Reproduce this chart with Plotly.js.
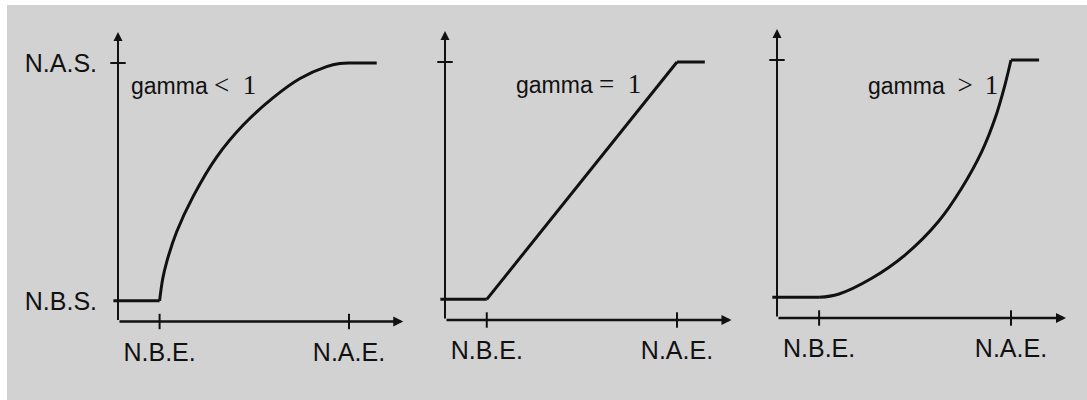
<!DOCTYPE html>
<html>
<head>
<meta charset="utf-8">
<script src="https://cdn.plot.ly/plotly-3.0.1.min.js"></script>
<style>
  html, body { margin: 0; padding: 0; background: #ffffff; }
  #chart { position: absolute; left: 7px; top: 5px; width: 1080px; height: 395px; }
</style>
</head>
<body>
<div id="chart"></div>
<script>
// Axis tick labels
const energyTickText = ['N.B.E.', 'N.A.E.'];
const signalTickText = ['N.B.S.', 'N.A.S.'];
// Normalised break points: N.B.E. / N.A.E. on x, N.B.S. / N.A.S. on y
const energyTicks = [0.18, 1.0];
const signalTicks = [0.08, 1.0];

// Panel captions
const captionWord = 'gamma';
const captionRelation = ['<', '=', '>'];
const captionValue = ['1', '1', '1'];

// Flat runs below N.B.E. and beyond N.A.E.
const lowRunX = [-0.02, 0.18];
const highRunX = [1.0, 1.12];

// Transfer curves between the break points
const rampBelowX = [0.18, 0.194, 0.211, 0.254, 0.326, 0.427, 0.542, 0.672, 0.788, 0.903, 0.96, 1.0];
const rampBelowY = [0.08, 0.167, 0.231, 0.347, 0.485, 0.636, 0.760, 0.866, 0.940, 0.986, 0.998, 1.0];
const rampUnitX = [0.18, 1.0];
const rampUnitY = [0.08, 1.0];
const rampAboveX = [0.18, 0.262, 0.405, 0.547, 0.689, 0.789, 0.875, 0.932, 0.974, 1.0];
const rampAboveY = [0.08, 0.092, 0.154, 0.244, 0.373, 0.503, 0.645, 0.774, 0.903, 1.0];

const ramps = [
  { x: rampBelowX, y: rampBelowY, shape: 'spline' },
  { x: rampUnitX, y: rampUnitY, shape: 'linear' },
  { x: rampAboveX, y: rampAboveY, shape: 'spline' }
];

// Panel frames (paper fractions) and shared styling
const frames = [
  { x: [0.09636, 0.38083], y: [0.19873, 0.98405] },
  { x: [0.39911, 0.68481], y: [0.20253, 0.98633] },
  { x: [0.70646, 0.99463], y: [0.20759, 0.99139] }
];
const ink = '#111111';
const sans = 'Liberation Sans, Arial, sans-serif';
const serif = 'Liberation Serif, Times New Roman, serif';
const xRange = [-0.03, 1.3];
const yRange = [0, 1.2];
const arrowTipX = 1.235;
const arrowTipY = 1.12;
const captionPos = [
  { x: 0.048, y: 0.915 },
  { x: 0.298, y: 0.915 },
  { x: 0.382, y: 0.903 }
];
const NBSP = '\u00a0', THIN = '\u2009';
const gapBefore = [NBSP, NBSP, NBSP + NBSP];
const gapAfter = [NBSP + NBSP, NBSP + NBSP, NBSP + THIN];

const traces = [];
const layout = {
  width: 1080, height: 395,
  margin: { l: 0, r: 0, t: 0, b: 0 },
  paper_bgcolor: '#d2d2d2',
  plot_bgcolor: 'rgba(0,0,0,0)',
  showlegend: false,
  annotations: []
};

const levelLow = signalTicks[0];
const levelHigh = signalTicks[1];

ramps.forEach((ramp, i) => {
  const n = i === 0 ? '' : String(i + 1);
  const xa = 'x' + n, ya = 'y' + n;
  const lineStyle = { color: ink, width: 3 };

  // level below N.B.E.
  traces.push({ type: 'scatter', mode: 'lines', xaxis: xa, yaxis: ya,
    x: lowRunX, y: lowRunX.map(() => levelLow), line: lineStyle, hoverinfo: 'skip' });
  // transfer curve
  traces.push({ type: 'scatter', mode: 'lines', xaxis: xa, yaxis: ya,
    x: ramp.x, y: ramp.y, line: Object.assign({ shape: ramp.shape, smoothing: 1 }, lineStyle),
    hoverinfo: 'skip' });
  // saturation level beyond N.A.E.
  traces.push({ type: 'scatter', mode: 'lines', xaxis: xa, yaxis: ya,
    x: highRunX, y: highRunX.map(() => levelHigh), line: lineStyle, hoverinfo: 'skip' });
  // tick marks on the energy axis
  traces.push({ type: 'scatter', mode: 'markers', xaxis: xa, yaxis: ya, cliponaxis: false,
    x: energyTicks, y: energyTicks.map(() => 0),
    marker: { symbol: 'line-ns', size: 11, line: { width: 2, color: ink } }, hoverinfo: 'skip' });
  // tick mark at N.A.S. on the signal axis
  traces.push({ type: 'scatter', mode: 'markers', xaxis: xa, yaxis: ya, cliponaxis: false,
    x: [0], y: [levelHigh],
    marker: { symbol: 'line-ew', size: 11, line: { width: 2, color: ink } }, hoverinfo: 'skip' });

  layout['xaxis' + n] = {
    domain: frames[i].x, range: xRange, anchor: ya,
    showgrid: false, zeroline: false, showline: false, ticks: '',
    tickmode: 'array', tickvals: energyTicks, ticktext: energyTickText,
    ticklabelstandoff: 13,
    tickfont: { family: sans, size: 25, color: ink },
    fixedrange: true
  };
  layout['yaxis' + n] = {
    domain: frames[i].y, range: yRange, anchor: xa,
    showgrid: false, zeroline: false, showline: false, ticks: '',
    tickmode: 'array', tickvals: signalTicks, ticktext: signalTickText,
    showticklabels: i === 0,
    ticklabelstandoff: 13,
    tickfont: { family: sans, size: 25, color: ink },
    fixedrange: true
  };

  // axis lines with arrow heads
  layout.annotations.push({
    xref: xa, yref: ya, axref: xa, ayref: ya,
    x: 0, y: arrowTipY, ax: 0, ay: 0, text: '',
    showarrow: true, arrowhead: 2, arrowsize: 0.9, arrowwidth: 2, arrowcolor: ink, standoff: 0
  });
  layout.annotations.push({
    xref: xa, yref: ya, axref: xa, ayref: ya,
    x: arrowTipX, y: 0, ax: 0, ay: 0, text: '',
    showarrow: true, arrowhead: 2, arrowsize: 0.8, arrowwidth: 2.5, arrowcolor: ink, standoff: 0
  });

  // caption
  layout.annotations.push({
    xref: xa, yref: ya, x: captionPos[i].x, y: captionPos[i].y,
    xanchor: 'left', yanchor: 'middle', showarrow: false,
    font: { family: sans, size: 23, color: ink },
    text: captionWord + gapBefore[i] + '<span style="font-family:' + serif + ';font-size:27px">' +
      captionRelation[i] + gapAfter[i] + captionValue[i] + '</span>'
  });
});

Plotly.newPlot('chart', traces, layout, { staticPlot: true, displayModeBar: false });
</script>
</body>
</html>
